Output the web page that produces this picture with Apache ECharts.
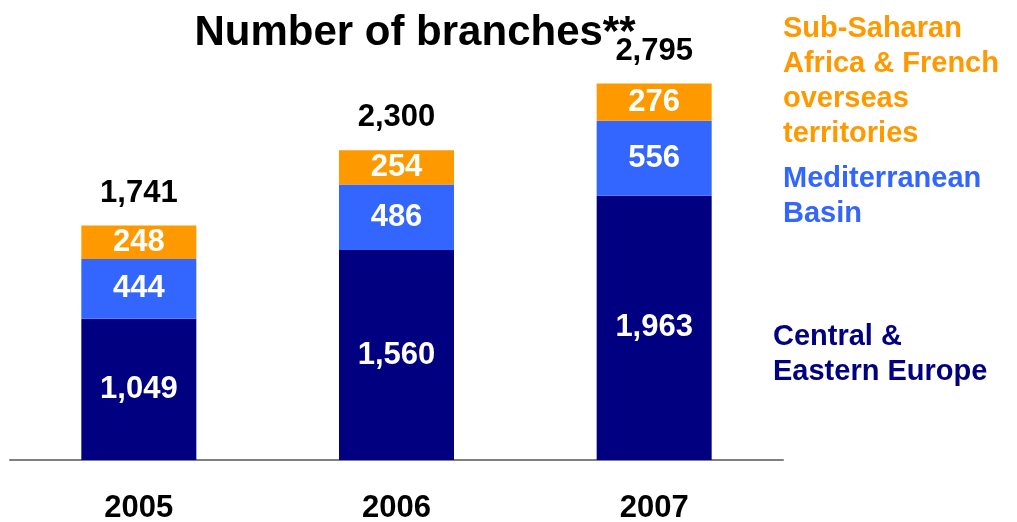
<!DOCTYPE html>
<html><head><meta charset="utf-8">
<script src="https://cdn.jsdelivr.net/npm/echarts@6/dist/echarts.min.js"></script>
<style>html,body{margin:0;padding:0;background:#fff}#c{width:1017px;height:522px}</style>
</head><body><div id="c"></div>
<script>
const categories = ['2005', '2006', '2007'];
const centralEastern = [1049, 1560, 1963];
const mediterranean = [444, 486, 556];
const subSaharan = [248, 254, 276];
const totals = [1741, 2300, 2795];

const FONT = '"Liberation Sans", Arial, sans-serif';
const fmt = v => v.toLocaleString('en-US');
const inner = { show: true, position: 'inside', color: '#fff', fontSize: 31, fontWeight: 'bold', fontFamily: FONT, formatter: p => fmt(p.value) };

const chart = echarts.init(document.getElementById('c'));
chart.setOption({
  animation: false,
  title: { text: 'Number of branches**', left: 410, textAlign: 'center', top: 7,
    textStyle: { fontSize: 42, fontWeight: 'bold', color: '#000', fontFamily: FONT } },
  grid: { left: 10, right: 234, top: 56, bottom: 62, outerBoundsMode: 'none', containLabel: false },
  xAxis: { type: 'category', data: categories,
    axisLine: { lineStyle: { color: '#808080', width: 2 } }, axisTick: { show: false },
    axisLabel: { margin: 33, fontSize: 31, fontWeight: 'bold', color: '#000', fontFamily: FONT } },
  yAxis: { type: 'value', min: 0, max: 3000, show: false, splitLine: { show: false } },
  series: [
    { name: 'Central & Eastern Europe', type: 'bar', stack: 's', data: centralEastern, barWidth: 115, itemStyle: { color: '#000080' }, label: inner },
    { name: 'Mediterranean Basin', type: 'bar', stack: 's', data: mediterranean, itemStyle: { color: '#3366FF' }, label: inner },
    { name: 'Sub-Saharan Africa & French overseas territories', type: 'bar', stack: 's', data: subSaharan, itemStyle: { color: '#FF9900' }, label: inner },
    { name: 'total', type: 'bar', stack: 's', data: totals.map(() => 0), itemStyle: { color: 'transparent' },
      label: { show: true, position: 'top', distance: 17, color: '#000', fontSize: 31, fontWeight: 'bold', fontFamily: FONT,
        formatter: p => fmt(totals[p.dataIndex]) } }
  ],
  graphic: [
    { type: 'text', left: 783, top: 11, style: { text: 'Sub-Saharan\nAfrica & French\noverseas\nterritories', fill: '#FF9900', font: 'bold 29px ' + FONT, lineHeight: 35 } },
    { type: 'text', left: 783, top: 161, style: { text: 'Mediterranean\nBasin', fill: '#3366FF', font: 'bold 29px ' + FONT, lineHeight: 35 } },
    { type: 'text', left: 773, top: 319, style: { text: 'Central &\nEastern Europe', fill: '#000080', font: 'bold 29px ' + FONT, lineHeight: 35 } }
  ]
});
</script></body></html>
